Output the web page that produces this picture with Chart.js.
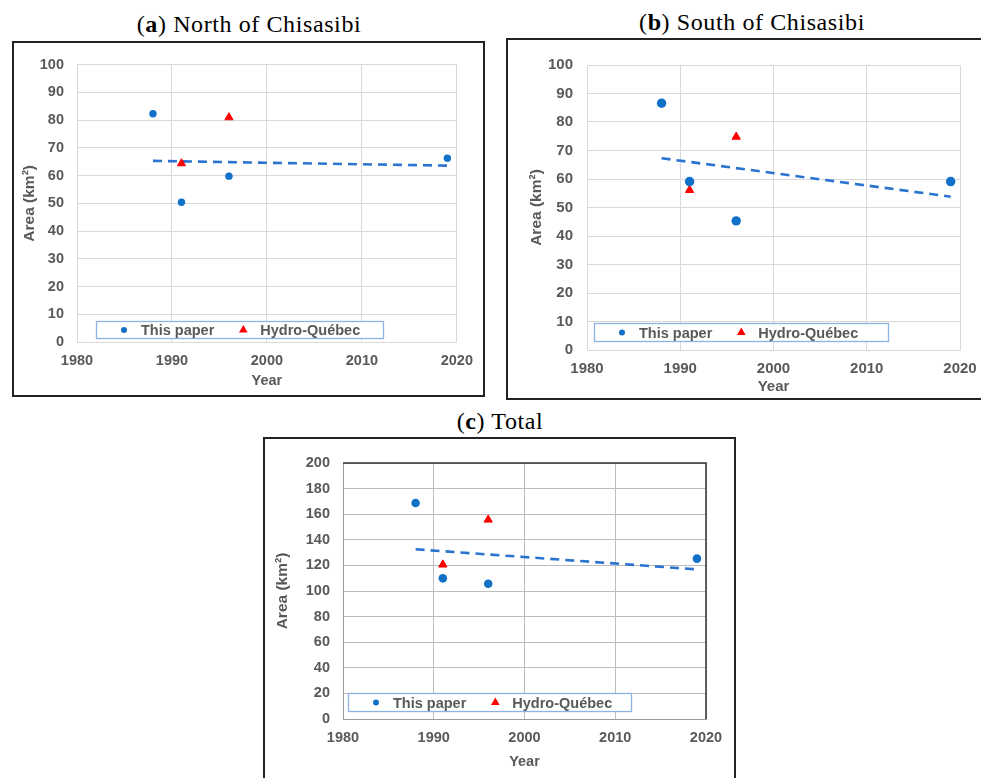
<!DOCTYPE html>
<html>
<head>
<meta charset="utf-8">
<script src="https://cdn.jsdelivr.net/npm/chart.js@4.4.1/dist/chart.umd.min.js"></script>
<style>
  body { margin: 0; background: #fff; width: 981px; height: 778px; overflow: hidden; position: relative; }
  .title { position: absolute; width: 400px; text-align: center; font-family: 'Liberation Serif', serif; font-size: 24px; line-height: 28px; letter-spacing: 0.6px; color: #000; }
  .box { position: absolute; border: 2px solid #222; background: #fff; }
  .box canvas { display: block; }
</style>
</head>
<body>
<div class="title" style="left:49px; top:10px;">(<b>a</b>) North of Chisasibi</div>
<div class="title" style="left:552px; top:8px;">(<b>b</b>) South of Chisasibi</div>
<div class="title" style="left:300px; top:407px;">(<b>c</b>) Total</div>
<div class="box" style="left:12px; top:41px;"><canvas id="chartA" width="469" height="352"></canvas></div>
<div class="box" style="left:506px; top:38px;"><canvas id="chartB" width="490" height="358"></canvas></div>
<div class="box" style="left:263px; top:437px;"><canvas id="chartC" width="469" height="345"></canvas></div>
<script>
// years of each series
const paperYears = [1988, 1991, 1996, 2019];
const hqYears = [1991, 1996];
const trendYears = [1988, 2019];

// (a) North of Chisasibi
const northPaper = [82.3, 50.4, 59.8, 66.3];
const northHQ = [64.4, 81.0];
const northTrend = [65.3, 63.6];

// (b) South of Chisasibi
const southPaper = [86.6, 59.1, 45.3, 59.1];
const southHQ = [56.1, 74.8];
const southTrend = [67.3, 53.8];

// (c) Total
const totalPaper = [168.8, 109.9, 105.7, 125.3];
const totalHQ = [120.6, 155.7];
const totalTrend = [132.6, 116.9];

const seriesLabels = ['This paper', 'Hydro-Québec'];
const xTicks = [1980, 1990, 2000, 2010, 2020];
const yTicksPart = [0, 10, 20, 30, 40, 50, 60, 70, 80, 90, 100];
const yTicksTotal = [0, 20, 40, 60, 80, 100, 120, 140, 160, 180, 200];

const BLUE = '#1170c8';
const RED = '#ff0000';
const DASH = '#2a74d0';
const TEXT = '#595959';
const FONT = '"Liberation Sans", Arial, sans-serif';

Chart.defaults.font.family = FONT;

const toXY = (xs, ys) => xs.map((x, i) => ({ x: x, y: ys[i] }));

function mark(ctx, style, x, y, r, color) {
  ctx.fillStyle = color;
  ctx.beginPath();
  if (style === 'triangle') {
    ctx.moveTo(x, y - r);
    ctx.lineTo(x + r * 0.866, y + r * 0.5);
    ctx.lineTo(x - r * 0.866, y + r * 0.5);
    ctx.closePath();
  } else {
    ctx.arc(x, y, r, 0, Math.PI * 2);
  }
  ctx.fill();
}

// legend drawn as a framed box inside the plot area
const boxLegend = {
  id: 'boxLegend',
  afterDraw(chart, args, opts) {
    const { ctx, chartArea: a } = chart;
    const x0 = Math.round(a.left + opts.dx), y0 = Math.round(a.bottom - opts.dy);
    ctx.save();
    ctx.fillStyle = '#fff';
    ctx.fillRect(x0, y0, opts.w, opts.h);
    ctx.strokeStyle = '#8db3e2';
    ctx.lineWidth = 1.3;
    ctx.strokeRect(x0 + 0.5, y0 + 0.5, opts.w, opts.h);
    ctx.font = 'bold 14.5px ' + FONT;
    ctx.textBaseline = 'middle';
    const cy = y0 + opts.h / 2 + 0.5;
    let x = x0 + 28;
    chart.data.datasets.slice(0, 2).forEach(ds => {
      const r = ds.pointStyle === 'triangle' ? 5 : 3;
      mark(ctx, ds.pointStyle, x, cy, r, ds.pointBackgroundColor);
      ctx.fillStyle = TEXT;
      ctx.fillText(ds.label, x + 17, cy + 1);
      x += 17 + ctx.measureText(ds.label).width + 29;
    });
    ctx.restore();
  }
};

// dark top/right edge of the plot frame (panel c)
const frame = {
  id: 'frame',
  afterDraw(chart, args, opts) {
    const { ctx, chartArea: a } = chart;
    ctx.save();
    ctx.strokeStyle = opts.color;
    ctx.lineWidth = 1.5;
    ctx.beginPath();
    ctx.moveTo(a.left, a.top);
    ctx.lineTo(a.right, a.top);
    ctx.lineTo(a.right, a.bottom);
    ctx.stroke();
    ctx.restore();
  }
};

function makeChart(id, o) {
  const tickFont = { size: o.fs, weight: 'bold' };
  return new Chart(document.getElementById(id), {
    type: 'scatter',
    data: {
      datasets: [
        {
          label: seriesLabels[0], data: toXY(paperYears, o.paper),
          pointStyle: 'circle', pointRadius: o.dot,
          pointBackgroundColor: BLUE, pointBorderColor: BLUE, pointBorderWidth: 0
        },
        {
          label: seriesLabels[1], data: toXY(hqYears, o.hq),
          pointStyle: 'triangle', pointRadius: o.tri,
          pointBackgroundColor: RED, pointBorderColor: RED, pointBorderWidth: 1
        },
        {
          label: 'Trend', data: toXY(trendYears, o.trend), showLine: true,
          borderColor: DASH, borderWidth: 2.6, borderDash: [9, 6], pointRadius: 0, fill: false
        }
      ]
    },
    options: {
      responsive: false,
      animation: false,
      layout: { padding: { top: o.top, right: o.right, left: 0, bottom: 0 } },
      plugins: {
        legend: { display: false },
        tooltip: { enabled: false },
        boxLegend: o.legend,
        frame: o.frame || false
      },
      scales: {
        x: {
          type: 'linear',
          min: xTicks[0], max: xTicks[xTicks.length - 1],
          ticks: { stepSize: xTicks[1] - xTicks[0], padding: 10, color: TEXT, font: tickFont, callback: v => String(v) },
          grid: { color: o.grid, drawTicks: false },
          border: { color: o.axis },
          title: { display: true, text: 'Year', color: TEXT, font: tickFont, padding: { top: 0, bottom: o.xtp } },
          afterFit: s => { s.height = o.xh; }
        },
        y: {
          min: o.yt[0], max: o.yt[o.yt.length - 1],
          ticks: { stepSize: o.yt[1] - o.yt[0], padding: o.ypad, color: TEXT, font: tickFont },
          grid: { color: o.grid, drawTicks: false },
          border: { color: o.axis },
          title: { display: true, text: 'Area (km²)', color: TEXT, font: { size: 15.5, weight: 'bold' }, padding: { top: o.ytp, bottom: 0 } },
          afterFit: s => { s.width = o.left; }
        }
      }
    },
    plugins: [boxLegend, frame]
  });
}

makeChart('chartA', {
  paper: northPaper, hq: northHQ, trend: northTrend, yt: yTicksPart,
  dot: 3.7, tri: 4.7, fs: 14.5,
  left: 63, top: 19, right: 20, xh: 53, ypad: 13, xtp: 5, ytp: 6,
  grid: '#d9d9d9', axis: '#d9d9d9',
  legend: { dx: 19, dy: 21, w: 287, h: 17 }
});

makeChart('chartB', {
  paper: southPaper, hq: southHQ, trend: southTrend, yt: yTicksPart,
  dot: 4.7, tri: 4.8, fs: 15,
  left: 79, top: 25, right: 38, xh: 48, ypad: 14, xtp: 2, ytp: 19,
  grid: '#d9d9d9', axis: '#d9d9d9',
  legend: { dx: 7, dy: 27, w: 294, h: 18 }
});

makeChart('chartC', {
  paper: totalPaper, hq: totalHQ, trend: totalTrend, yt: yTicksTotal,
  dot: 4.3, tri: 4.8, fs: 14.5,
  left: 78, top: 24, right: 28, xh: 65, ypad: 13, xtp: 13, ytp: 8,
  grid: '#bcbcbc', axis: '#9a9a9a',
  legend: { dx: 5, dy: 26, w: 283, h: 18 },
  frame: { color: '#333' }
});
</script>
</body>
</html>
